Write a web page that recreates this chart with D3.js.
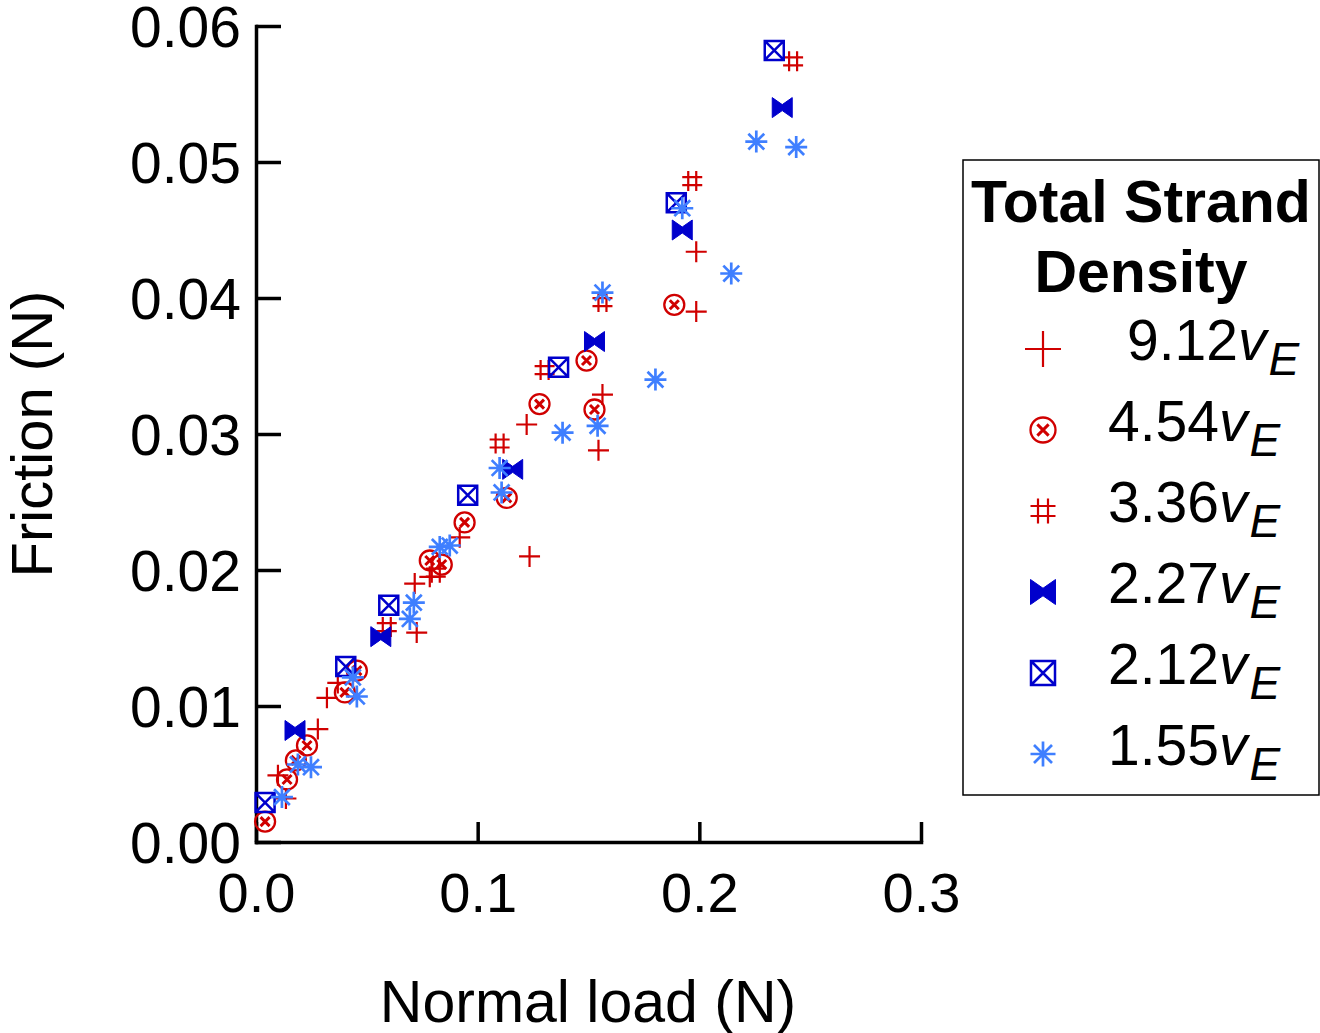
<!DOCTYPE html>
<meta charset="utf-8">
<body style="margin:0;background:#fff">
<style>
  text { font-family: "Liberation Sans", Arial, sans-serif; fill: #000; }
  .axis path, .axis line { stroke: #000; stroke-width: 3.5px; }
</style>
<script src="https://d3js.org/d3.v7.min.js"></script>
<script>
var width = 1320, height = 1033;

// series names (legend order) and their points [normal load, friction]
var names = ["9.12", "4.54", "3.36", "2.27", "2.12", "1.55"];
var s912 = [[0.0099,0.0049],[0.0135,0.0032],[0.0279,0.0083],[0.032,0.0106],[0.0369,0.0117],
  [0.0725,0.0154],[0.0716,0.0190],[0.0784,0.0195],[0.0919,0.0224],[0.1221,0.0307],[0.1234,0.0210],
  [0.1545,0.0288],[0.1563,0.0329],[0.1986,0.0434],[0.1986,0.0390]];
var s454 = [[0.0041,0.0015],[0.014,0.0046],[0.018,0.0060],[0.023,0.0071],[0.0401,0.0110],
  [0.0455,0.0126],[0.0784,0.0207],[0.0838,0.0204],[0.0941,0.0235],[0.1131,0.0253],[0.1279,0.0322],
  [0.1491,0.0354],[0.1527,0.0318],[0.1887,0.0395]];
var s336 = [[0.059,0.0158],[0.0811,0.0198],[0.1099,0.0293],[0.1302,0.0347],[0.1563,0.0397],
  [0.1968,0.0486],[0.2423,0.0574]];
var s227 = [[0.0176,0.0082],[0.0563,0.0151],[0.1158,0.0274],[0.1527,0.0368],[0.1923,0.0450],
  [0.2374,0.0540]];
var s212 = [[0.0041,0.0029],[0.0405,0.0129],[0.0599,0.0174],[0.0955,0.0255],[0.1365,0.0349],
  [0.1896,0.0470],[0.2338,0.0582]];
var s155 = [[0.0117,0.0033],[0.0189,0.0057],[0.0248,0.0055],[0.0437,0.0121],[0.0455,0.0107],
  [0.0694,0.0164],[0.0712,0.0176],[0.0829,0.0217],[0.0874,0.0218],[0.1099,0.0275],[0.1108,0.0257],
  [0.1383,0.0301],[0.1541,0.0306],[0.1563,0.0404],[0.1802,0.0340],[0.1923,0.0466],[0.2144,0.0418],
  [0.2257,0.0515],[0.2437,0.0511]];
var seriesData = [s912, s454, s336, s227, s212, s155];
var colors = ["#d00000", "#d00000", "#d00000", "#0000cc", "#0000cc", "#3f7fff"];
var shapes = ["plus", "otimes", "hash", "bowtie", "boxx", "star"];

var xTicks = [0, 0.1, 0.2, 0.3];
var yTicks = [0, 0.01, 0.02, 0.03, 0.04, 0.05, 0.06];

var x = d3.scaleLinear().domain([0, 0.3]).range([256, 921]);
var y = d3.scaleLinear().domain([0, 0.06]).range([842, 26]);

var svg = d3.select("body").append("svg")
  .attr("width", width)
  .attr("height", height);

// marker drawing: s = half size
function marker(g, shape, color, s) {
  if (shape == "plus") {
    g.append("path").attr("d", "M" + (-s) + ",0H" + s + "M0," + (-s) + "V" + s)
      .attr("stroke", color).attr("stroke-width", 2.2).attr("fill", "none");
  } else if (shape == "otimes") {
    g.append("circle").attr("r", s).attr("stroke", color).attr("stroke-width", 2.3).attr("fill", "none");
    var k = s * 0.45;
    g.append("path").attr("d", "M" + (-k) + "," + (-k) + "L" + k + "," + k + "M" + k + "," + (-k) + "L" + (-k) + "," + k)
      .attr("stroke", color).attr("stroke-width", 3).attr("fill", "none");
  } else if (shape == "hash") {
    var a = s * 0.4;
    g.append("path").attr("d",
      "M" + (-s) + "," + (-a) + "H" + s + "M" + (-s) + "," + a + "H" + s +
      "M" + (-a) + "," + (-s) + "V" + s + "M" + a + "," + (-s) + "V" + s)
      .attr("stroke", color).attr("stroke-width", 2.2).attr("fill", "none");
  } else if (shape == "bowtie") {
    var w = s * 0.3;
    g.append("path").attr("d",
      "M" + (-s) + "," + (-s) + "L0," + (-w) + "L" + s + "," + (-s) + "L" + s + "," + s +
      "L0," + w + "L" + (-s) + "," + s + "Z")
      .attr("fill", color).attr("stroke", color).attr("stroke-width", 1);
  } else if (shape == "boxx") {
    g.append("path").attr("d",
      "M" + (-s) + "," + (-s) + "H" + s + "V" + s + "H" + (-s) + "Z" +
      "M" + (-s) + "," + (-s) + "L" + s + "," + s + "M" + s + "," + (-s) + "L" + (-s) + "," + s)
      .attr("stroke", color).attr("stroke-width", 2.5).attr("fill", "none");
  } else if (shape == "star") {
    var d = s * 0.72;
    g.append("path").attr("d",
      "M" + (-s) + ",0H" + s + "M0," + (-s) + "V" + s +
      "M" + (-d) + "," + (-d) + "L" + d + "," + d + "M" + d + "," + (-d) + "L" + (-d) + "," + d)
      .attr("stroke", color).attr("stroke-width", 2.7).attr("fill", "none");
  }
}

// axes
var xAxis = svg.append("g").attr("class", "axis")
  .attr("transform", "translate(0,842)")
  .call(d3.axisBottom(x).tickValues(xTicks).tickSizeInner(-20).tickSizeOuter(0).tickFormat(d3.format(".1f")));
xAxis.selectAll("text").attr("y", 70).attr("dy", 0).style("font-size", "56px");

var yAxis = svg.append("g").attr("class", "axis")
  .attr("transform", "translate(256,0)")
  .call(d3.axisLeft(y).tickValues(yTicks).tickSizeInner(-25).tickSizeOuter(0).tickFormat(d3.format(".2f")));
yAxis.selectAll("text").attr("x", -15).attr("dy", "0.36em").style("font-size", "57px");
svg.selectAll(".axis .domain").attr("stroke-linecap", "square");

// axis titles
svg.append("text").attr("x", 588).attr("y", 1022).attr("text-anchor", "middle")
  .style("font-size", "59px").text("Normal load (N)");
svg.append("text").attr("transform", "translate(52,434) rotate(-90)").attr("text-anchor", "middle")
  .style("font-size", "58px").text("Friction (N)");

// points
var sizes = [10.5, 10, 10, 10, 9.5, 11];
seriesData.forEach(function(pts, si) {
  var g = svg.append("g");
  pts.forEach(function(p) {
    var m = g.append("g").attr("transform", "translate(" + x(p[0]) + "," + y(p[1]) + ")");
    marker(m, shapes[si], colors[si], sizes[si]);
  });
});

// legend
var lg = svg.append("g");
lg.append("rect").attr("x", 963).attr("y", 160).attr("width", 356).attr("height", 635)
  .attr("fill", "none").attr("stroke", "#000").attr("stroke-width", 1.5);
lg.append("text").attr("x", 1141).attr("y", 222).attr("text-anchor", "middle")
  .style("font-size", "59px").style("font-weight", "bold").text("Total Strand");
lg.append("text").attr("x", 1141).attr("y", 292).attr("text-anchor", "middle")
  .style("font-size", "59px").style("font-weight", "bold").text("Density");

var legSizes = [18, 12.5, 12.5, 12.5, 12, 12.5];
names.forEach(function(n, i) {
  var cy = 349 + i * 81;
  var m = lg.append("g").attr("transform", "translate(1043," + cy + ")");
  marker(m, shapes[i], colors[i], legSizes[i]);
  var t = lg.append("text").attr("x", i == 0 ? 1127 : 1108).attr("y", cy + 11).style("font-size", "57px");
  t.append("tspan").text(n);
  t.append("tspan").style("font-style", "italic").text("v");
  t.append("tspan").attr("dx", 2).attr("dy", 15).style("font-style", "italic").style("font-size", "46px").text("E");
});
</script>
</body>
